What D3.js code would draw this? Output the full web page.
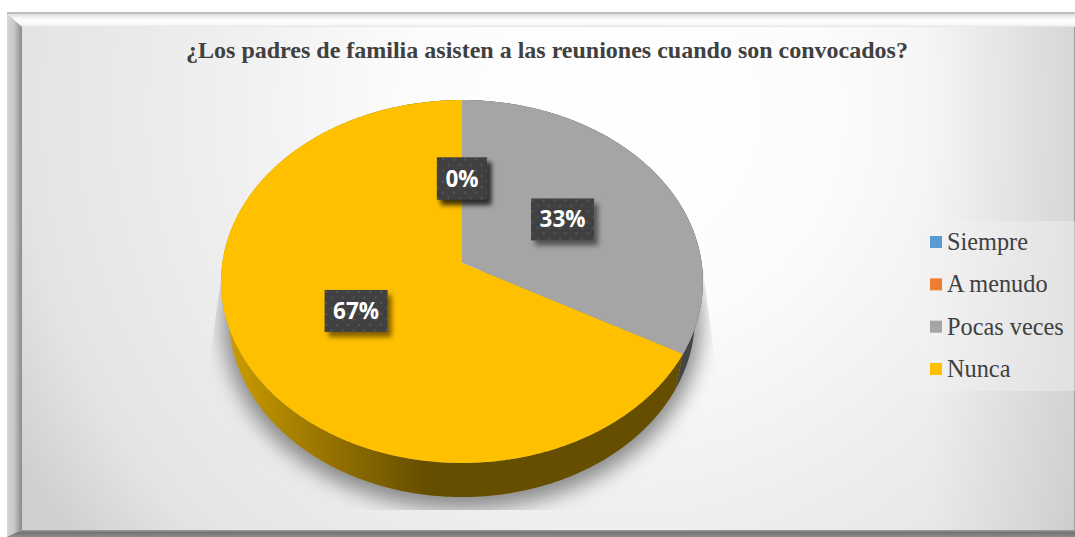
<!DOCTYPE html>
<html>
<head>
<meta charset="utf-8">
<title>Reuniones</title>
<script src="https://cdn.jsdelivr.net/npm/d3@7"></script>
<style>
html,body{margin:0;padding:0;background:#fff;overflow:hidden}
svg{display:block}
</style>
</head>
<body>
<svg id="chart" width="1075" height="537"></svg>
<script>
const titleText = "¿Los padres de familia asisten a las reuniones cuando son convocados?";
const categories = ["Siempre", "A menudo", "Pocas veces", "Nunca"];
const values = [0, 0, 33, 67];
const colors = ["#5B9BD5", "#ED7D31", "#A5A5A5", "#FFC000"];

const svg = d3.select('#chart');
const defs = svg.append('defs');
const color = d3.scaleOrdinal().domain(categories).range(colors);

// pie is tilted with some perspective, so a circle point goes through this
const tilt = -0.1019;
const topFace = {cx: 462, dx: 239.7, ay: 152.8, by: 263};
const baseFace = {cx: 462, dx: 231.8, ay: 147.7, by: 298.7};

function project(face, angle, r) {
    const u = Math.sin(angle) * r, v = -Math.cos(angle) * r;
    const w = 1 + tilt * v;
    return [face.cx + face.dx * u / w, (face.ay * v + face.by) / w];
}

function arcPoints(face, a0, a1) {
    const pts = d3.range(a0, a1, 0.01).map(a => project(face, a, 1));
    pts.push(project(face, a1, 1));
    return pts;
}

const line = d3.line();

function addGradient(id, x1, y1, x2, y2, stops) {
    const g = defs.append('linearGradient').attr('id', id)
        .attr('gradientUnits', 'userSpaceOnUse')
        .attr('x1', x1).attr('y1', y1).attr('x2', x2).attr('y2', y2);
    stops.forEach(s => {
        const st = g.append('stop').attr('offset', s[0]).attr('stop-color', s[1]);
        if (s.length > 2) st.attr('stop-opacity', s[2]);
    });
}

addGradient('wallYellow', 228, 0, 425, 0, [[0, '#cc9c00'], [0.45, '#9c7700'], [1, '#664e00']]);
addGradient('bevelTop', 0, 14, 0, 27, [[0, '#dedede'], [0.45, '#ffffff'], [0.85, '#f6f6f6'], [1, '#e2e2e2']]);
addGradient('bevelLeft', 7, 0, 22, 0, [[0, '#d6d6d6'], [0.5, '#c6c6c6'], [0.85, '#9a9a9a'], [1, '#8c8c8c']]);
addGradient('bevelBottom', 0, 528, 0, 537, [[0, '#c4c4c4'], [0.5, '#747474'], [1, '#8c8c8c']]);
addGradient('rightShade', 930, 0, 1075, 0, [[0, '#000', 0], [1, '#000', 0.09]]);

const bg = defs.append('radialGradient').attr('id', 'bg')
    .attr('gradientUnits', 'userSpaceOnUse')
    .attr('cx', 620).attr('cy', 110).attr('r', 700);
[[0, '#ffffff'], [0.3, '#fcfcfc'], [0.6, '#eeeeee'], [0.85, '#e4e4e4'], [1, '#cfcfcf']]
    .forEach(s => bg.append('stop').attr('offset', s[0]).attr('stop-color', s[1]));

const blur = defs.append('filter').attr('id', 'soft')
    .attr('x', '-20%').attr('y', '-20%').attr('width', '140%').attr('height', '140%');
blur.append('feGaussianBlur').attr('stdDeviation', 10);

const boxShadow = defs.append('filter').attr('id', 'boxShadow')
    .attr('x', '-30%').attr('y', '-30%').attr('width', '170%').attr('height', '170%');
boxShadow.append('feDropShadow').attr('dx', 4).attr('dy', 5).attr('stdDeviation', 2.5)
    .attr('flood-color', '#000').attr('flood-opacity', 0.5);

const dots = defs.append('pattern').attr('id', 'dots')
    .attr('patternUnits', 'userSpaceOnUse').attr('width', 11).attr('height', 11);
dots.append('rect').attr('width', 11).attr('height', 11).attr('fill', '#404040');
dots.append('rect').attr('x', 2).attr('y', 2).attr('width', 2).attr('height', 2).attr('fill', '#575757');
dots.append('rect').attr('x', 7.5).attr('y', 7.5).attr('width', 2).attr('height', 2).attr('fill', '#575757');

defs.append('clipPath').attr('id', 'shadowClip').append('path')
    .attr('d', 'M222 270 L207 380 L207 510 L717 510 L717 375 L703 270 Z');

// frame
svg.append('rect').attr('x', 7).attr('y', 12).attr('width', 1068).attr('height', 525).attr('fill', '#bdbdbd');
svg.append('rect').attr('x', 22).attr('y', 27).attr('width', 1053).attr('height', 503).attr('fill', 'url(#bg)');
svg.append('rect').attr('x', 22).attr('y', 27).attr('width', 1053).attr('height', 503).attr('fill', 'url(#rightShade)');
svg.append('path').attr('d', 'M7 14 L1075 14 L1075 27 L22 27 Z').attr('fill', 'url(#bevelTop)');
svg.append('path').attr('d', 'M7 14 L22 27 L22 530 L7 537 Z').attr('fill', 'url(#bevelLeft)');
svg.append('path').attr('d', 'M7 537 L22 530 L1075 530 L1075 537 Z').attr('fill', 'url(#bevelBottom)');
svg.append('rect').attr('x', 1074).attr('y', 27).attr('width', 1).attr('height', 503).attr('fill', '#a0a0a0');

// soft shadow behind the pie
svg.append('g').attr('clip-path', 'url(#shadowClip)')
    .append('path')
    .attr('d', line(arcPoints(baseFace, 0, 2 * Math.PI)) + 'Z')
    .attr('transform', 'translate(0,6)')
    .attr('fill', '#8a8a8a')
    .attr('stroke', '#8a8a8a')
    .attr('stroke-width', 12)
    .attr('filter', 'url(#soft)');

const pie = d3.pie().sort(null).value(d => d.value);
const slices = pie(categories.map((c, i) => ({name: c, value: values[i]})));
const drawn = slices.filter(s => s.value > 0);

// side wall first, the top face covers the hidden part
svg.append('g').selectAll('path').data(drawn).join('path')
    .attr('d', s => line(arcPoints(topFace, s.startAngle, s.endAngle)
        .concat(arcPoints(baseFace, s.startAngle, s.endAngle).reverse())) + 'Z')
    .attr('fill', s => s.data.name === 'Nunca' ? 'url(#wallYellow)' : '#454545');

svg.append('g').selectAll('path').data(drawn).join('path')
    .attr('d', s => line([project(topFace, 0, 0)].concat(arcPoints(topFace, s.startAngle, s.endAngle))) + 'Z')
    .attr('fill', s => color(s.data.name));

// title
svg.append('text')
    .attr('x', 547).attr('y', 58)
    .attr('text-anchor', 'middle')
    .attr('font-family', '"Liberation Serif"')
    .attr('font-weight', 'bold')
    .attr('font-size', 24)
    .attr('fill', '#404040')
    .text(titleText);

// legend
svg.append('rect').attr('x', 918).attr('y', 221).attr('width', 157).attr('height', 170)
    .attr('fill', '#f2f2f2').attr('fill-opacity', 0.45);
const legendY = d3.scalePoint().domain(categories).range([242, 369]);
const legend = svg.append('g').selectAll('g').data(categories).join('g')
    .attr('transform', d => `translate(930,${legendY(d)})`);
legend.append('rect').attr('y', -6).attr('width', 12).attr('height', 12).attr('fill', d => color(d));
legend.append('text')
    .attr('x', 17).attr('y', 8)
    .attr('font-family', '"Liberation Serif"')
    .attr('font-size', 24.3)
    .attr('fill', '#404040')
    .text(d => d);

// data labels at half radius
const labels = svg.append('g').selectAll('g').data(slices).join('g')
    .attr('transform', s => {
        const p = project(topFace, (s.startAngle + s.endAngle) / 2, 0.5);
        return `translate(${p[0]},${p[1] + 1})`;
    });
labels.each(function(s) {
    const g = d3.select(this);
    const t = g.append('text')
        .attr('y', 8)
        .attr('text-anchor', 'middle')
        .attr('font-family', '"Open Sans"')
        .attr('font-weight', 'bold')
        .attr('font-size', 22.5)
        .attr('fill', '#fff')
        .text(s.value + '%');
    const w = t.node().getComputedTextLength() + 17;
    g.insert('rect', 'text')
        .attr('x', -w / 2).attr('y', -21)
        .attr('width', w).attr('height', 42)
        .attr('fill', 'url(#dots)')
        .attr('filter', 'url(#boxShadow)');
});
</script>
</body>
</html>
